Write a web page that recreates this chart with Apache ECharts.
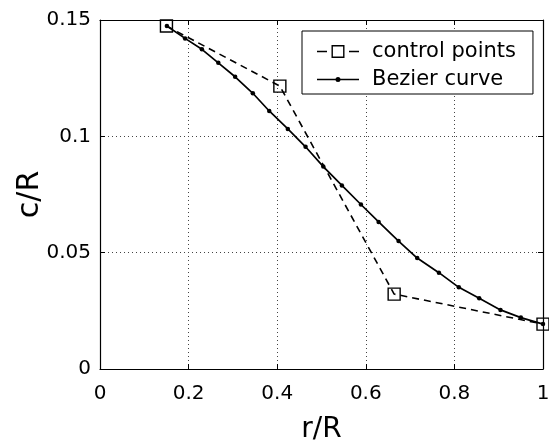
<!DOCTYPE html>
<html>
<head>
<meta charset="utf-8">
<script src="https://cdn.jsdelivr.net/npm/echarts@6/dist/echarts.min.js"></script>
<style>
html,body{margin:0;padding:0;background:#fff;}
#chart{width:549px;height:443px;}
</style>
</head>
<body>
<div id="chart"></div>
<script>
// ---- data ----
const controlX = [0.15, 0.406, 0.664, 1.0];
const controlY = [0.1474, 0.1216, 0.0322, 0.0193];

const curveX = [0.151, 0.192, 0.230, 0.267, 0.305, 0.345, 0.382, 0.424, 0.464, 0.504,
                0.546, 0.589, 0.629, 0.674, 0.716, 0.765, 0.810, 0.856, 0.904, 0.950, 1.0];
const curveY = [0.1474, 0.1421, 0.1374, 0.1316, 0.1256, 0.1185, 0.1109, 0.1032, 0.0955, 0.0870,
                0.0789, 0.0707, 0.0632, 0.0550, 0.0477, 0.0414, 0.0351, 0.0304, 0.0254, 0.0221, 0.0193];

const xTickLabels = ['0', '0.2', '0.4', '0.6', '0.8', '1'];
const yTickLabels = ['0', '0.05', '0.1', '0.15'];
const seriesNames = ['control points', 'Bezier curve'];
const xName = 'r/R';
const yName = 'c/R';

// ---- build ----
const FONT = 'DejaVu Sans';
const controlData = controlX.map((x, i) => [x, controlY[i]]);
const curveData = curveX.map((x, i) => [x, curveY[i]]);

// legend icons (MATLAB style): dashed line with hollow square / line with small dot
const iconControl = 'path://M0,5.7 L10,5.7 L10,7.3 L0,7.3 Z ' +
  'M14.5,0 L27.5,0 L27.5,13 L14.5,13 Z M15.9,1.4 L15.9,11.6 L26.1,11.6 L26.1,1.4 Z ' +
  'M32,5.7 L42,5.7 L42,7.3 L32,7.3 Z';
const iconCurve = 'path://M0,5.7 L42,5.7 L42,7.3 L0,7.3 Z ' +
  'M18.5,6.5 A2.5,2.5 0 1,1 23.5,6.5 A2.5,2.5 0 1,1 18.5,6.5 Z';

const chart = echarts.init(document.getElementById('chart'), null, {renderer: 'canvas'});

const tickCommon = {show: true, inside: true, length: 5, lineStyle: {color: '#000', width: 1}};
const axisLineCommon = {show: true, onZero: false, lineStyle: {color: '#000', width: 1.2}};

chart.setOption({
  animation: false,
  backgroundColor: '#fff',
  grid: {left: 100, right: 6, top: 20, bottom: 74, containLabel: false, outerBoundsMode: 'none'},
  legend: {
    orient: 'vertical',
    left: 302, top: 31,
    padding: [10, 17, 4, 15],
    itemGap: 7,
    itemWidth: 42, itemHeight: 14,
    symbolKeepAspect: true,
    borderColor: '#000', borderWidth: 1,
    backgroundColor: '#fff',
    textStyle: {fontFamily: FONT, fontSize: 21, color: '#000', padding: [0, 0, 0, 8]},
    data: [
      {name: seriesNames[0], icon: iconControl, itemStyle: {color: '#000', borderWidth: 0}},
      {name: seriesNames[1], icon: iconCurve, itemStyle: {color: '#000', borderWidth: 0}}
    ]
  },
  xAxis: [{
    type: 'value', min: 0, max: 1, interval: 0.2, position: 'bottom',
    name: xName, nameLocation: 'middle', nameGap: 47,
    nameTextStyle: {fontFamily: FONT, fontSize: 28, color: '#000'},
    axisLine: axisLineCommon, axisTick: tickCommon,
    axisLabel: {fontFamily: FONT, fontSize: 20, color: '#000', margin: 15,
      formatter: v => xTickLabels[Math.round(v / 0.2)]},
    splitLine: {show: true, lineStyle: {color: '#444', type: [1, 3], width: 1}}
  }, {
    type: 'value', min: 0, max: 1, interval: 0.2, position: 'top',
    axisLine: axisLineCommon, axisTick: tickCommon,
    axisLabel: {show: false}, splitLine: {show: false}
  }],
  yAxis: [{
    type: 'value', min: 0, max: 0.15, interval: 0.05, position: 'left',
    name: yName, nameLocation: 'middle', nameGap: 55, nameMoveOverlap: false,
    nameTextStyle: {fontFamily: FONT, fontSize: 30, color: '#000'},
    axisLine: axisLineCommon, axisTick: tickCommon,
    axisLabel: {fontFamily: FONT, fontSize: 20, color: '#000', margin: 9,
      formatter: v => yTickLabels[Math.round(v / 0.05)]},
    splitLine: {show: true, lineStyle: {color: '#444', type: [1, 3], width: 1}}
  }, {
    type: 'value', min: 0, max: 0.15, interval: 0.05, position: 'right',
    axisLine: axisLineCommon, axisTick: tickCommon,
    axisLabel: {show: false}, splitLine: {show: false}
  }],
  series: [{
    name: seriesNames[0],
    type: 'line',
    data: controlData,
    symbol: 'rect', symbolSize: 12,
    showAllSymbol: true,
    lineStyle: {color: '#000', width: 1.6, type: [7, 5]},
    itemStyle: {color: 'rgba(0,0,0,0)', borderColor: '#000', borderWidth: 1.4},
    z: 2
  }, {
    name: seriesNames[1],
    type: 'line',
    data: curveData,
    symbol: 'circle', symbolSize: 4.5,
    showAllSymbol: true,
    lineStyle: {color: '#000', width: 1.7},
    itemStyle: {color: '#000'},
    z: 3
  }]
});
</script>
</body>
</html>
